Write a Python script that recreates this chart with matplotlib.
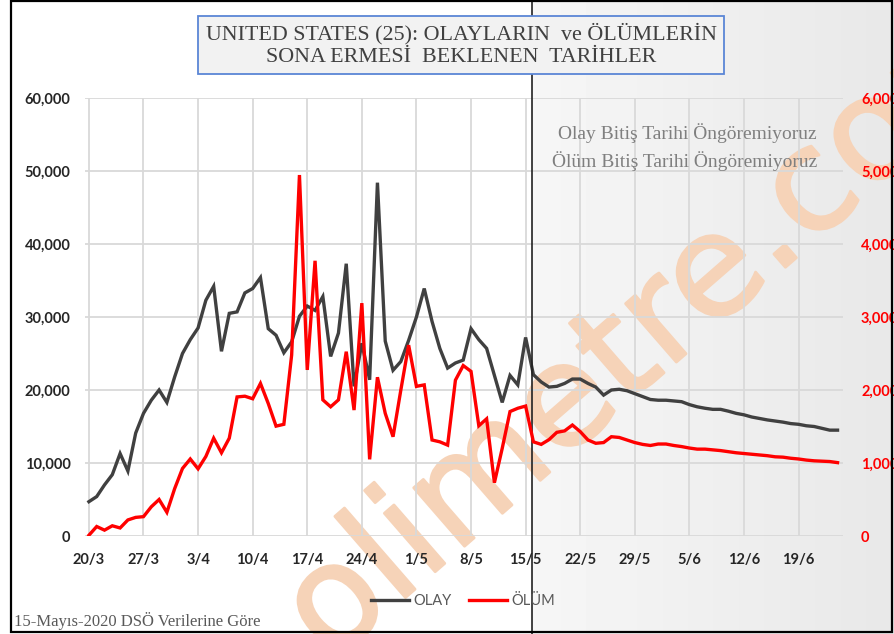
import matplotlib
matplotlib.use('Agg')
import matplotlib.pyplot as plt
import matplotlib.transforms as mtransforms
import matplotlib.patheffects as pe
from matplotlib.lines import Line2D
from matplotlib.patches import Rectangle
import numpy as np
import pandas as pd

# daily values, 20/3 .. 24/6 (after 15/5 = forecast)
dates = pd.date_range('2020-03-20', '2020-06-24', freq='D')

olay = [4700, 5400, 7000, 8400, 11300, 8900, 14100, 16800, 18600, 20000,
        18300, 21800, 25000, 26900, 28500, 32300, 34200, 25300, 30500, 30700,
        33300, 33900, 35400, 28400, 27500, 25100, 26600, 30100, 31500, 30900,
        32800, 24600, 27800, 37300, 20500, 26400, 21400, 48400, 26700, 22700,
        23900, 26800, 30000, 33900, 29400, 25700, 23000, 23700, 24100, 28400,
        26900, 25700, 22000, 18300, 22000, 20700, 27200, 22100, 21100, 20400,
        20500, 20900, 21500, 21500, 20900, 20400, 19300, 20000, 20100, 19900,
        19500, 19100, 18700, 18600, 18600, 18500, 18400, 18000, 17700, 17500,
        17350, 17350, 17100, 16800, 16600, 16300, 16100, 15900, 15750, 15600,
        15400, 15300, 15100, 15000, 14750, 14500, 14500]

olum = [10, 130, 80, 140, 110, 220, 255, 265, 400, 500,
        325, 650, 925, 1055, 920, 1090, 1340, 1140, 1340, 1905,
        1915, 1880, 2090, 1815, 1505, 1530, 2480, 4945, 2275, 3770,
        1865, 1770, 1865, 2525, 1725, 3190, 1050, 2175, 1680, 1360,
        2000, 2615, 2050, 2070, 1315, 1290, 1245, 2135, 2335, 2255,
        1510, 1605, 730, 1200, 1705, 1750, 1780, 1290, 1255, 1320,
        1420, 1440, 1520, 1430, 1315, 1270, 1280, 1360, 1350, 1315,
        1280, 1255, 1240, 1260, 1260, 1240, 1225, 1205, 1190, 1190,
        1180, 1170, 1155, 1140, 1130, 1120, 1110, 1100, 1085, 1080,
        1065, 1055, 1040, 1030, 1025, 1020, 1005]

left_ticks = [0, 10000, 20000, 30000, 40000, 50000, 60000]
right_ticks = [0, 1000, 2000, 3000, 4000, 5000, 6000]

title = 'UNITED STATES (25): OLAYLARIN  ve ÖLÜMLERİN\nSONA ERMESİ  BEKLENEN  TARİHLER'
note1 = 'Olay Bitiş Tarihi Öngöremiyoruz'
note2 = 'Ölüm Bitiş Tarihi Öngöremiyoruz'
footer = '15-Mayıs-2020 DSÖ Verilerine Göre'
watermark = 'olimetre.com'

W, H = 894, 634
GRAY = '#404040'
RED = '#ff0000'
GRID = '#d9d9d9'
SERIF = 'Liberation Serif'
SANS = 'Lato'
WM = '#f6d3b8'

x = np.arange(len(olay))
cutoff = 56.8  # where the forecast part starts

fig = plt.figure(figsize=(W / 100, H / 100), dpi=100)
fig.patch.set_facecolor('white')

bg = fig.add_axes([0, 0, 1, 1], zorder=-10)
bg.set_xlim(0, 1)
bg.set_ylim(0, 1)
bg.axis('off')

ax = fig.add_axes([85 / W, (H - 536) / H, 758 / W, 438 / H])
ax.patch.set_visible(False)
ax.set_xlim(-0.5, 96.7)
ax.set_ylim(0, 60000)

ax.plot(x, olay, color=GRAY, lw=2.4, solid_joinstyle='miter', zorder=3)
ax2 = ax.twinx()
ax2.set_ylim(0, 6000)
ax2.plot(x, olum, color=RED, lw=2.4, solid_joinstyle='miter', zorder=3)

tick_idx = list(range(0, len(x), 7))
ax.set_xticks(tick_idx)
ax.set_xticklabels([f'{dates[i].day}/{dates[i].month}' for i in tick_idx])
ax.set_yticks(left_ticks)
ax.set_yticklabels([f'{v:,}' for v in left_ticks])
ax2.set_yticks(right_ticks)
ax2.set_yticklabels([f'{v:,}' for v in right_ticks])

ax.grid(True, color=GRID, lw=1.3)
ax.set_axisbelow(True)
for a in (ax, ax2):
    for s in a.spines.values():
        s.set_visible(False)
ax.tick_params(axis='y', length=0, pad=10.5, labelsize=10.5, labelcolor='#262626')
ax.tick_params(axis='x', length=0, pad=12, labelsize=10.5, labelcolor='#262626')
ax2.tick_params(axis='y', length=0, pad=13, labelsize=10.5, labelcolor=RED)
for lab in ax.get_xticklabels() + ax.get_yticklabels() + ax2.get_yticklabels():
    lab.set_fontweight('bold')
    lab.set_family(SANS)

# shaded forecast area and separator line, full figure height
x_fig = fig.transFigure.inverted().transform(ax.transData.transform((cutoff, 0)))[0]
grad = np.linspace(0.965, 0.91, 100).reshape(1, -1)
bg.imshow(grad, extent=[x_fig, 1, 0, 1], aspect='auto', cmap='gray', vmin=0, vmax=1, zorder=0)
trans = mtransforms.blended_transform_factory(ax.transData, fig.transFigure)
ax.add_line(Line2D([cutoff, cutoff], [0, 1], transform=trans, color='#222222', lw=1.2,
                   clip_on=False, zorder=4))

# watermark
bg.text(0.735, 0.485, watermark, transform=bg.transAxes, rotation=41, rotation_mode='anchor',
        ha='center', va='center', fontsize=102, family='DejaVu Sans', color=WM, zorder=1,
        path_effects=[pe.withStroke(linewidth=2, foreground=WM)])

fig.text(461 / W, 1 - 45 / H, title, ha='center', va='center', family=SERIF, fontsize=15.8,
         color=GRAY, linespacing=1.2,
         bbox=dict(boxstyle='square,pad=0.33', facecolor='#f2f2f2', edgecolor='#5b86d6', lw=1.3))

fig.text(817 / W, 1 - 133 / H, note1, ha='right', va='center', family=SERIF, fontsize=14,
         color='#7f7f7f')
fig.text(817 / W, 1 - 161 / H, note2, ha='right', va='center', family=SERIF, fontsize=14,
         color='#7f7f7f')
fig.text(14 / W, 1 - 621 / H, footer, ha='left', va='center', family=SERIF, fontsize=12,
         color='#595959')

handles = [Line2D([], [], color=GRAY, lw=2.4), Line2D([], [], color=RED, lw=2.4)]
leg = fig.legend(handles, ['OLAY', 'ÖLÜM'], loc='center', bbox_to_anchor=(463 / W, 1 - 601 / H),
                 ncol=2, frameon=False, handlelength=2.6, handletextpad=0.3, columnspacing=1.2,
                 prop={'family': SANS, 'size': 10.5})
for t in leg.get_texts():
    t.set_color('#595959')

fig.patches.append(Rectangle((11 / W, 2 / H), (892 - 11) / W, (632 - 1) / H,
                             transform=fig.transFigure, fill=False, edgecolor='black', lw=1.6,
                             zorder=10))

fig.savefig('out.png', dpi=100)
